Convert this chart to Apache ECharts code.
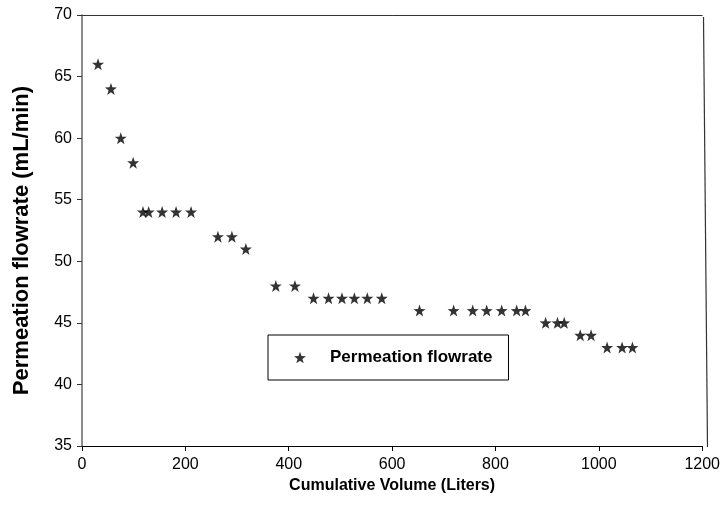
<!DOCTYPE html>
<html>
<head>
<meta charset="utf-8">
<script src="https://cdn.jsdelivr.net/npm/echarts@6/dist/echarts.min.js"></script>
<style>
html,body{margin:0;padding:0;background:#fff;}
#chart{width:723px;height:521px;}
</style>
</head>
<body>
<div id="chart"></div>
<script>
var volume = [31, 56, 75, 99, 118, 129, 155, 182, 211, 263, 290, 317, 375, 412, 448, 477, 503, 527, 552, 580, 653, 719, 756, 783, 812, 841, 858, 897, 920, 933, 964, 985, 1016, 1045, 1065];
var flowrate = [66, 64, 60, 58, 54, 54, 54, 54, 54, 52, 52, 51, 48, 48, 47, 47, 47, 47, 47, 47, 46, 46, 46, 46, 46, 46, 46, 45, 45, 45, 44, 44, 43, 43, 43];
var seriesName = 'Permeation flowrate';
var xTitle = 'Cumulative Volume (Liters)';
var yTitle = 'Permeation flowrate (mL/min)';

var star = 'path://M0,-10 L2.35,-3.24 L9.51,-3.09 L3.8,1.24 L5.88,8.09 L0,4 L-5.88,8.09 L-3.8,1.24 L-9.51,-3.09 L-2.35,-3.24 Z';
var pts = volume.map(function (v, i) { return [v, flowrate[i]]; });
var font = 'Liberation Sans, Arial, sans-serif';

var chart = echarts.init(document.getElementById('chart'));
chart.setOption({
  animation: false,
  backgroundColor: '#fff',
  grid: { left: 82, right: 20.5, top: 15, bottom: 75, containLabel: false },
  legend: {
    data: [{ name: seriesName, icon: star }],
    left: 268, top: 335,
    orient: 'horizontal',
    borderColor: '#000', borderWidth: 1,
    padding: [14, 16, 14, 26],
    itemWidth: 12, itemHeight: 12,
    textStyle: { fontFamily: font, fontSize: 17, fontWeight: 'bold', color: '#000', padding: [0, 0, 0, 19] }
  },
  xAxis: [{
    type: 'value', min: 0, max: 1200, interval: 200,
    name: xTitle, nameLocation: 'middle', nameGap: 28,
    nameTextStyle: { fontFamily: font, fontSize: 16, fontWeight: 'bold', color: '#000' },
    axisLine: { show: true, onZero: false, lineStyle: { color: '#000', width: 1 } },
    axisTick: { show: true, length: 5, lineStyle: { color: '#000' } },
    axisLabel: { fontFamily: font, fontSize: 16, color: '#000', margin: 11, formatter: function (v) { return String(v); } },
    splitLine: { show: false }
  }, {
    type: 'value', min: 0, max: 1200, position: 'top',
    axisLine: { show: true, lineStyle: { color: '#333', width: 1 } },
    axisTick: { show: false }, axisLabel: { show: false }, splitLine: { show: false }
  }],
  yAxis: {
    type: 'value', min: 35, max: 70, interval: 5,
    name: yTitle, nameLocation: 'middle', nameGap: 49, nameRotate: 90,
    nameTextStyle: { fontFamily: font, fontSize: 22, fontWeight: 'bold', color: '#000', padding: [0, 20, 0, 0] },
    axisLine: { show: true, onZero: false, lineStyle: { color: '#666', width: 1.5 } },
    axisTick: { show: true, length: 5, lineStyle: { color: '#333' } },
    axisLabel: { fontFamily: font, fontSize: 16, color: '#000', margin: 10 },
    splitLine: { show: false }
  },
  graphic: [{
    type: 'line',
    shape: { x1: 703.5, y1: 17, x2: 707.5, y2: 447 },
    style: { stroke: '#333', lineWidth: 1.2 },
    silent: true
  }],
  series: [{
    name: seriesName,
    type: 'scatter',
    data: pts,
    symbol: star,
    symbolSize: 12,
    itemStyle: { color: '#000' }
  }]
});
</script>
</body>
</html>
